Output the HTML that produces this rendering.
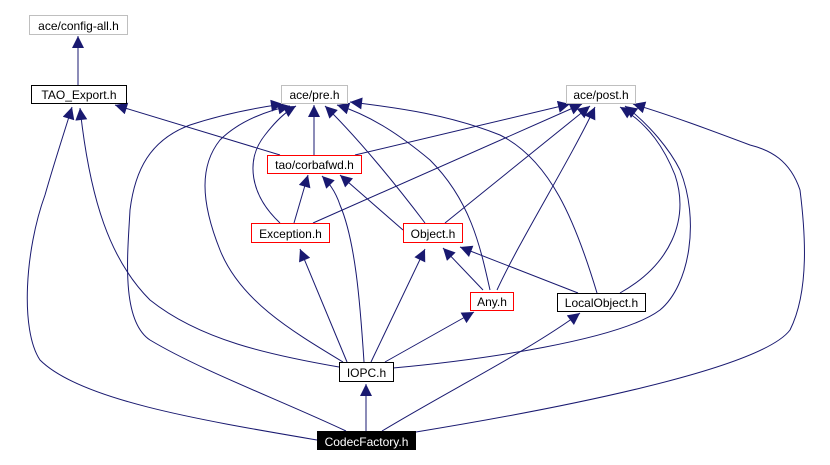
<!DOCTYPE html>
<html><head><style>
html,body{margin:0;padding:0;background:#fff;}
svg{display:block;font-family:"Liberation Sans",sans-serif;font-size:12px;}
</style></head><body>
<svg width="830" height="465" viewBox="0 0 830 465" xmlns="http://www.w3.org/2000/svg">
<defs>
<marker id="a" viewBox="0 0 10 10" refX="10" refY="5" markerWidth="13" markerHeight="12" markerUnits="userSpaceOnUse" orient="auto">
<path d="M0,0 L10,5 L0,10 z" fill="#191970"/>
</marker>
</defs>
<g fill="none" stroke="#191970" stroke-width="1" marker-end="url(#a)">
<path d="M78,85 L78,36"/>
<path d="M280,155 L115,105"/>
<path d="M314,155 L314,105"/>
<path d="M355,155 L570,104"/>
<path d="M280,223 C250,195 245,160 265,135 C275,122 285,112 296,106"/>
<path d="M294,223 L308,175"/>
<path d="M313,223 L582,104"/>
<path d="M425,223 C400,190 360,140 325,106"/>
<path d="M403,230 L340,175"/>
<path d="M445,223 L590,106"/>
<path d="M483,290 L443,248"/>
<path d="M490,290 C480,245 470,200 430,160 C400,135 370,115 337,105"/>
<path d="M497,290 C520,240 570,160 595,107"/>
<path d="M578,293 L460,247"/>
<path d="M597,293 C575,220 550,160 500,135 C450,115 400,108 350,102"/>
<path d="M620,293 C670,265 690,220 675,175 C665,150 650,125 620,107"/>
<path d="M347,362 L300,249"/>
<path d="M371,362 L425,249"/>
<path d="M385,362 L474,312"/>
<path d="M364,362 C360,300 355,240 340,205 C335,190 328,182 322,176"/>
<path d="M339,367 C270,355 200,340 150,300 C110,260 90,200 80,108"/>
<path d="M343,362 C290,330 240,300 220,250 C200,200 200,165 220,140 C240,120 270,110 290,106"/>
<path d="M393,368 C480,360 620,340 660,310 C690,285 700,220 680,170 C670,150 650,125 625,106"/>
<path d="M366,431 L366,384"/>
<path d="M317,440 C200,420 80,400 40,360 C20,330 25,250 45,195 C55,160 65,130 72,107"/>
<path d="M346,431 C280,400 200,370 150,340 C120,320 128,250 130,210 C135,170 150,140 190,125 C220,115 255,108 283,104"/>
<path d="M382,431 C450,390 530,350 580,313"/>
<path d="M416,432 C550,410 760,370 790,330 C810,290 805,230 800,190 C790,160 770,150 750,145 C710,130 670,115 633,104"/>
</g>
<g stroke-width="1">
<rect x="29.5" y="15.5" width="98" height="19" fill="#fff" stroke="#bfbfbf"/>
<rect x="31.5" y="85.5" width="95" height="18" fill="#fff" stroke="#000"/>
<rect x="281.5" y="85.5" width="66" height="18" fill="#fff" stroke="#bfbfbf"/>
<rect x="566.5" y="85.5" width="69" height="18" fill="#fff" stroke="#bfbfbf"/>
<rect x="267.5" y="155.5" width="94" height="18" fill="#fff" stroke="#ff0000"/>
<rect x="251.5" y="223.5" width="78" height="19" fill="#fff" stroke="#ff0000"/>
<rect x="403.5" y="223.5" width="59" height="19" fill="#fff" stroke="#ff0000"/>
<rect x="470.5" y="292.5" width="43" height="18" fill="#fff" stroke="#ff0000"/>
<rect x="557.5" y="293.5" width="88" height="18" fill="#fff" stroke="#000"/>
<rect x="339.5" y="362.5" width="54" height="19" fill="#fff" stroke="#000"/>
<rect x="317" y="431" width="99" height="19" fill="#000"/>
</g>
<g text-anchor="middle" fill="#000">
<text x="78.5" y="30">ace/config-all.h</text>
<text x="79" y="99">TAO_Export.h</text>
<text x="314.5" y="99">ace/pre.h</text>
<text x="601" y="99">ace/post.h</text>
<text x="314.5" y="169">tao/corbafwd.h</text>
<text x="290.5" y="238">Exception.h</text>
<text x="433" y="238">Object.h</text>
<text x="492" y="306">Any.h</text>
<text x="601.5" y="307">LocalObject.h</text>
<text x="366.5" y="377">IOPC.h</text>
<text x="366.5" y="446" fill="#fff">CodecFactory.h</text>
</g>
</svg>
</body></html>
